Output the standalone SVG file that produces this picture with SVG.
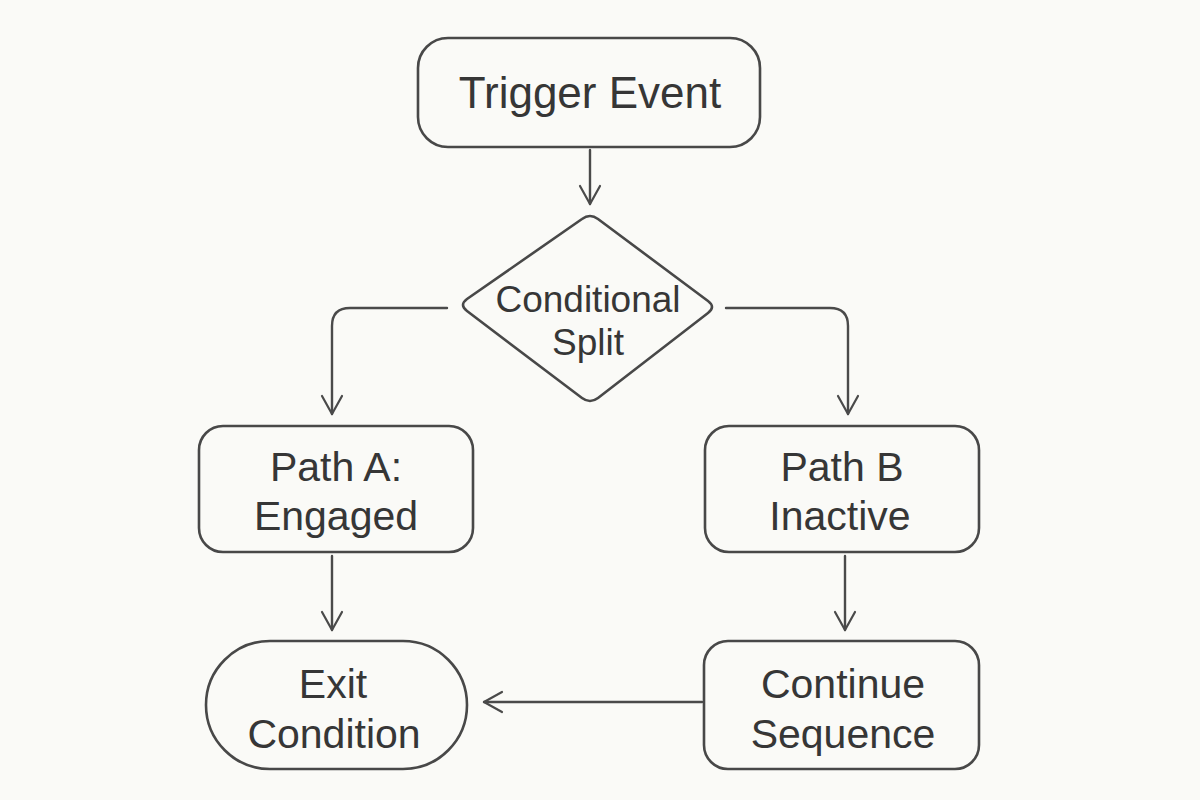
<svg xmlns="http://www.w3.org/2000/svg" width="1200" height="800" viewBox="0 0 1200 800">
<defs>
<style>
.shape{fill:none;stroke:#484848;stroke-width:2.6;stroke-linejoin:round}
.conn{fill:none;stroke:#4a4a4a;stroke-width:2.4;stroke-linecap:round;stroke-linejoin:round}
.t{font-family:"Liberation Sans","DejaVu Sans",sans-serif;fill:#363636;text-anchor:middle}
.big{font-size:44px}
.mid{font-size:41px}
.dia{font-size:37px}
</style>
<marker id="arr" viewBox="0 0 24 24" refX="21" refY="12" markerWidth="24" markerHeight="24" markerUnits="userSpaceOnUse" orient="auto">
<path d="M3,2 L21,12 L3,22" fill="none" stroke="#4a4a4a" stroke-width="2.2" stroke-linecap="round" stroke-linejoin="round"/>
</marker>
</defs>
<rect width="1200" height="800" fill="#fafaf7"/>
<g id="connectors">
<path class="conn" d="M590,150 L590,204" marker-end="url(#arr)"/>
<path class="conn" d="M447,308 L350,308 Q332,308 332,326 L332,414" marker-end="url(#arr)"/>
<path class="conn" d="M726,308 L830,308 Q848,308 848,326 L848,414" marker-end="url(#arr)"/>
<path class="conn" d="M332,556 L332,630" marker-end="url(#arr)"/>
<path class="conn" d="M845,556 L845,630" marker-end="url(#arr)"/>
<path class="conn" d="M702,702 L484,702" marker-end="url(#arr)"/>
</g>
<g id="trigger">
<rect class="shape" x="418" y="38" width="342" height="109" rx="30"/>
<text class="t big" x="590" y="108">Trigger Event</text>
</g>
<g id="split">
<path class="shape" d="M582,219 Q590,213 598,219 L708,301 Q716,307 708,313 L598,398 Q590,404 582,398 L467,311 Q459,305 467,299 Z"/>
<text class="t dia" x="588" y="312">Conditional</text>
<text class="t dia" x="588" y="355">Split</text>
</g>
<g id="pathA">
<rect class="shape" x="199" y="426" width="274" height="126" rx="24"/>
<text class="t mid" x="336" y="481">Path A:</text>
<text class="t mid" x="336" y="530">Engaged</text>
</g>
<g id="pathB">
<rect class="shape" x="705" y="426" width="274" height="126" rx="24"/>
<text class="t mid" x="842" y="481">Path B</text>
<text class="t mid" x="840" y="530">Inactive</text>
</g>
<g id="exit">
<rect class="shape" x="206" y="641" width="261" height="128" rx="64"/>
<text class="t mid" x="333" y="698">Exit</text>
<text class="t mid" x="334" y="748">Condition</text>
</g>
<g id="continue">
<rect class="shape" x="704" y="641" width="275" height="128" rx="24"/>
<text class="t mid" x="843" y="698">Continue</text>
<text class="t mid" x="843" y="748">Sequence</text>
</g>
</svg>
